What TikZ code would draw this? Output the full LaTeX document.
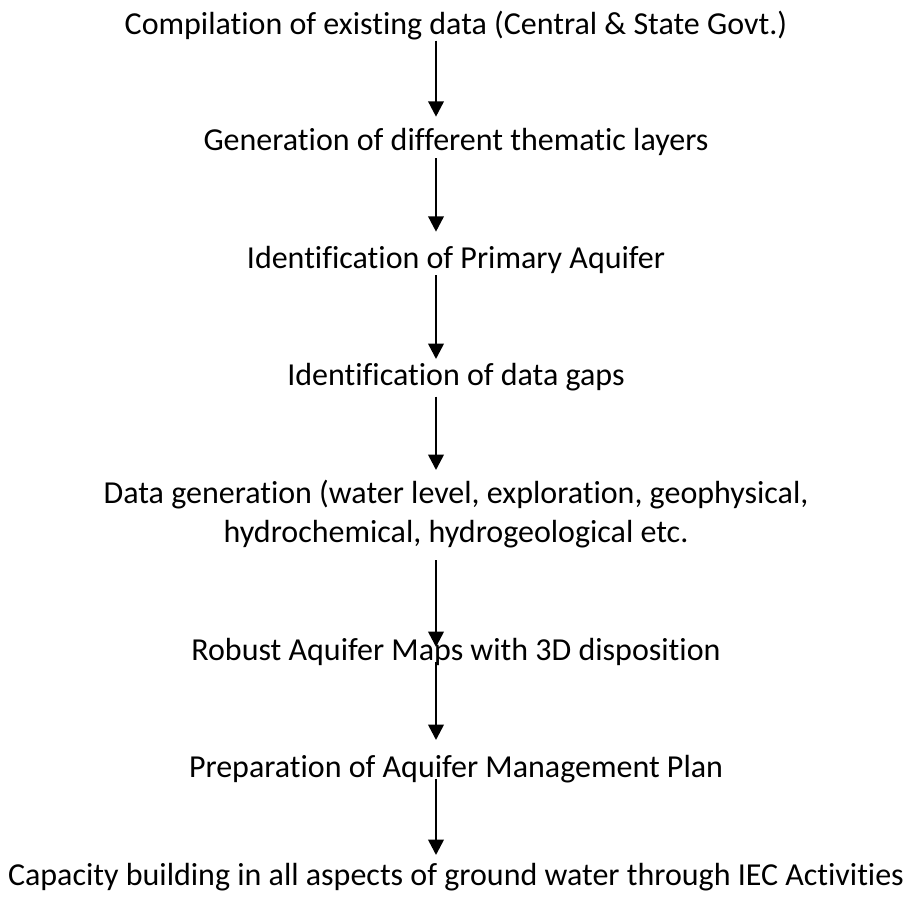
\documentclass[tikz,border=0pt]{standalone}
\usepackage{fontspec}
\setmainfont{Carlito}[Ligatures={NoCommon,NoContextual},RawFeature={-liga;-clig;-dlig}]
\usetikzlibrary{arrows.meta}
\tikzset{
  stage/.style={inner sep=0pt, anchor=base, align=center,
    font={\fontsize{24pt}{29.25pt}\selectfont}},
  flow/.style={line width=1.9pt, -{Triangle[width=11.5pt,length=11.5pt]}}
}
\begin{document}
\begin{tikzpicture}[x=0.75pt,y=-0.75pt]
\useasboundingbox (0,0) rectangle (912,897);
\node[stage] (n1) at (456,34.3) {Compilation of existing data (Central \& State Govt.)};
\node[stage] (n2) at (456,150.7) {Generation of different thematic layers};
\node[stage] (n3) at (456,268.3) {Identification of Primary Aquifer};
\node[stage] (n4) at (456,385) {Identification of data gaps};
\node[stage] (n5) at (456,542) {Data generation (water level, exploration, geophysical,\\hydrochemical, hydrogeological etc.};
\node[stage] (n6) at (456,660) {Robust Aquifer Maps with 3D disposition};
\node[stage] (n7) at (456,777) {Preparation of Aquifer Management Plan};
\node[stage] (n8) at (456,885) {Capacity building in all aspects of ground water through IEC Activities};
\draw[flow] ([shift={(-20,6.4)}]n1.base) -- ([shift={(-20,-34)}]n2.base);
\draw[flow] ([shift={(-20,7.6)}]n2.base) -- ([shift={(-20,-36.6)}]n3.base);
\draw[flow] ([shift={(-20,6.7)}]n3.base) -- ([shift={(-20,-26)}]n4.base);
\draw[flow] ([shift={(-20,11.7)}]n4.base) -- ([shift={(-20,-72)}]n5.base);
\draw[flow] ([shift={(-20,18)}]n5.base) -- ([shift={(-20,-13)}]n6.base);
\draw[flow] ([shift={(-20,2)}]n6.base) -- ([shift={(-20,-37)}]n7.base);
\draw[flow] ([shift={(-20,2)}]n7.base) -- ([shift={(-20,-30)}]n8.base);
\end{tikzpicture}
\end{document}
